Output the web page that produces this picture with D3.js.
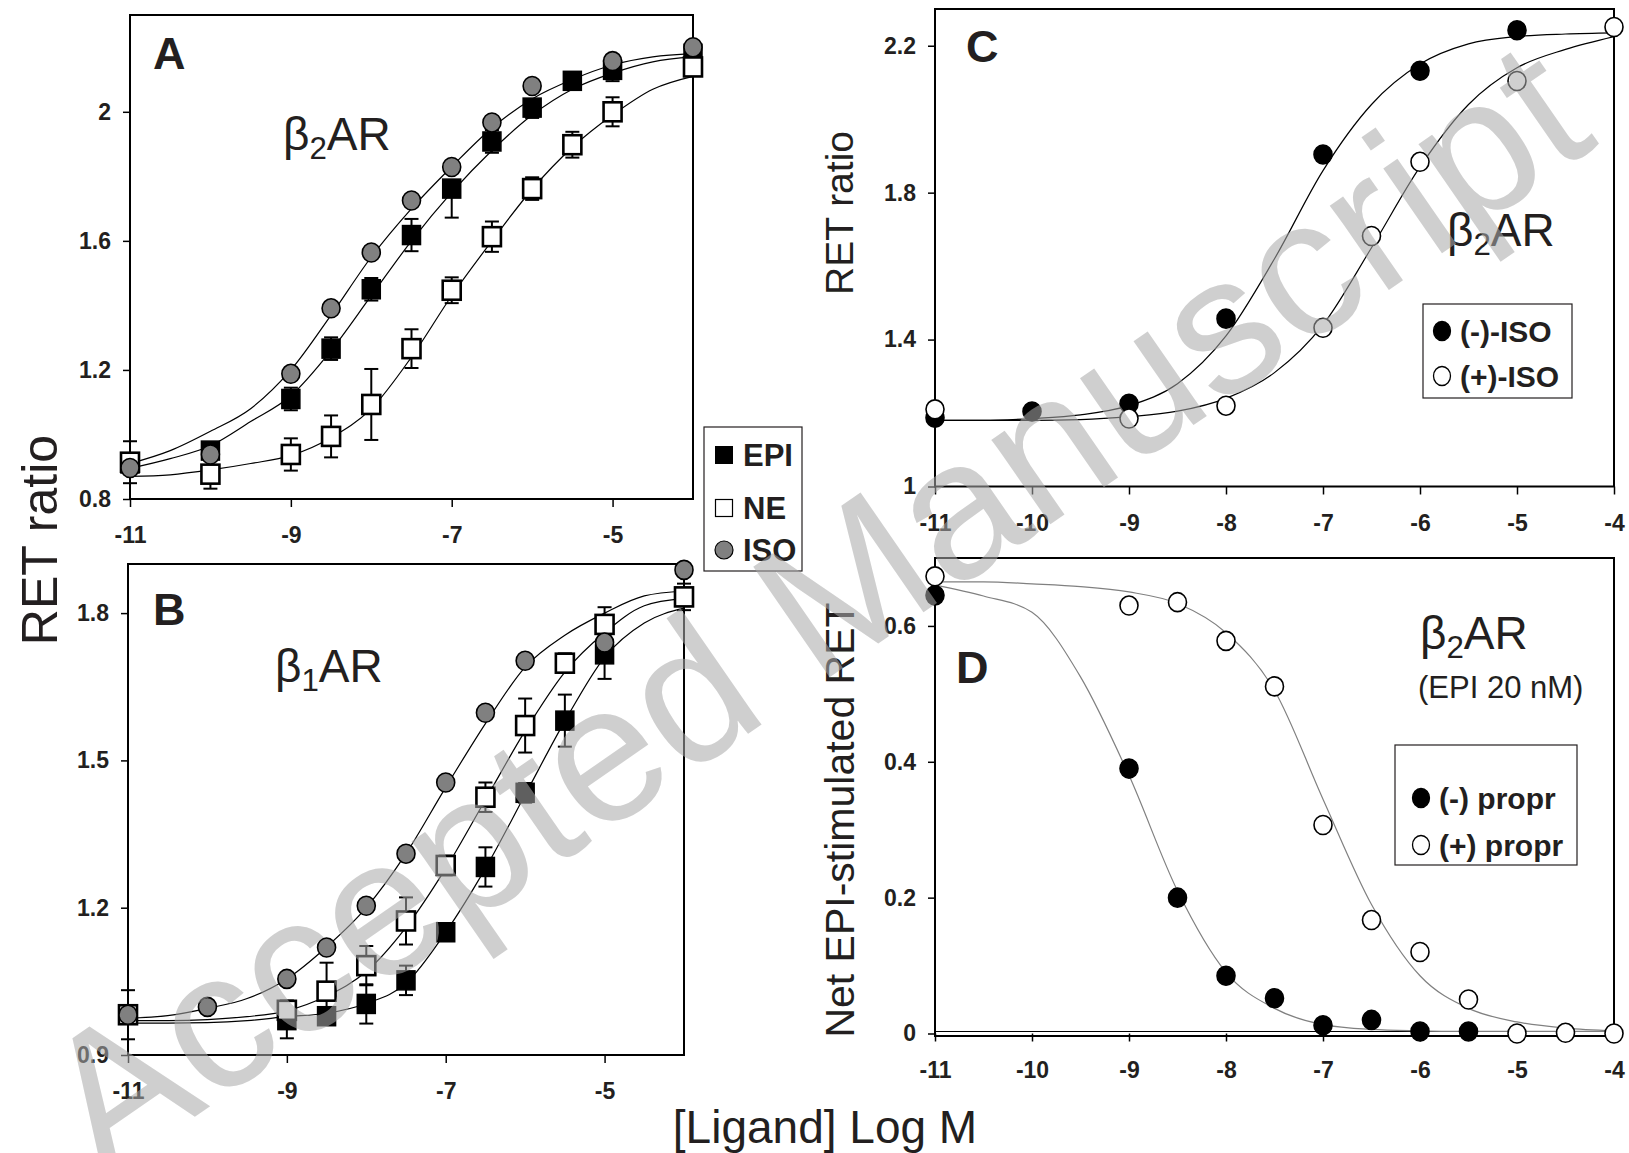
<!DOCTYPE html>
<html>
<head>
<meta charset="utf-8">
<script src="https://cdn.jsdelivr.net/npm/d3@7"></script>
<style>
body { margin: 0; background: #fff; }
svg text { font-family: "Liberation Sans", Arial, sans-serif; fill: #231f20; }
.tick text { font-weight: bold; font-size: 23px; }
.tick line { stroke: #000; stroke-width: 1.5; }
.bold { font-weight: bold; }
</style>
</head>
<body>
<svg id="chart" width="1629" height="1153"></svg>
<script>
// concentrations (log M) for the measured points
const xAB = [-11, -10, -9, -8.5, -8, -7.5, -7, -6.5, -6, -5.5, -5, -4];
const xC = [-11, -10, -9, -8, -7, -6.5, -6, -5, -4];
const xD = [-11, -9, -8.5, -8, -7.5, -7, -6.5, -6, -5.5, -5, -4.5, -4];
const curveX = [-11, -10.5, -10, -9.5, -9, -8.5, -8, -7.5, -7, -6.5, -6, -5.5, -5, -4.5, -4];

// Panel A : beta2AR
const epiA = [0.91, 0.95, 1.11, 1.266, 1.45, 1.618, 1.762, 1.908, 2.013, 2.096, 2.13, 2.18];
const epiAErrLo = [0, 0, 0.035, 0.035, 0.035, 0.05, 0.09, 0.035, 0.032, 0, 0.035, 0];
const epiAErrHi = [0, 0, 0.035, 0.035, 0.035, 0.05, 0.02, 0.035, 0.02, 0, 0.035, 0];
const neA = [0.914, 0.877, 0.938, 0.994, 1.093, 1.266, 1.447, 1.613, 1.762, 1.898, 2.0, 2.139];
const neAErr = [0.065, 0.045, 0.05, 0.065, 0.11, 0.06, 0.04, 0.047, 0.035, 0.04, 0.045, 0];
const isoA = [0.896, 0.938, 1.188, 1.391, 1.564, 1.725, 1.829, 1.967, 2.08, null, 2.157, 2.2];
const isoACurve = [0.91, 0.95, 1.01, 1.08, 1.2, 1.37, 1.55, 1.70, 1.83, 1.95, 2.04, 2.10, 2.145, 2.17, 2.18];
const epiACurve = [0.895, 0.925, 0.965, 1.04, 1.12, 1.26, 1.43, 1.60, 1.75, 1.88, 1.99, 2.07, 2.12, 2.155, 2.17];
const neACurve = [0.87, 0.875, 0.89, 0.91, 0.935, 0.99, 1.08, 1.24, 1.43, 1.60, 1.76, 1.89, 1.99, 2.07, 2.11];

// Panel B : beta1AR
const epiB = [0.982, null, 0.971, 0.979, 1.004, 1.052, 1.15, 1.283, 1.434, 1.581, 1.716, 1.833];
const epiBErr = [0.05, 0, 0.037, 0, 0.04, 0.03, 0, 0.04, 0.02, 0.053, 0.05, 0];
const neB = [0.982, null, 0.991, 1.03, 1.082, 1.173, 1.286, 1.425, 1.571, 1.698, 1.777, 1.833];
const neBErr = [0, 0, 0.02, 0.058, 0.04, 0.048, 0.02, 0.03, 0.055, 0.02, 0.035, 0.027];
const isoB = [0.982, 0.998, 1.055, 1.119, 1.204, 1.31, 1.455, 1.597, 1.703, null, 1.74, 1.888];
const isoBCurve = [0.975, 0.98, 0.995, 1.015, 1.055, 1.12, 1.2, 1.31, 1.445, 1.575, 1.69, 1.755, 1.8, 1.835, 1.845];
const neBCurve = [0.97, 0.97, 0.972, 0.978, 0.99, 1.02, 1.07, 1.16, 1.28, 1.42, 1.56, 1.68, 1.76, 1.815, 1.83];
const epiBCurve = [0.965, 0.965, 0.966, 0.97, 0.978, 0.985, 1.005, 1.046, 1.15, 1.28, 1.43, 1.58, 1.71, 1.78, 1.81];

// Panel C : ISO enantiomers
const minusIso = [1.187, 1.204, 1.225, 1.457, 1.904, null, 2.132, 2.242, null];
const plusIso = [1.21, null, 1.185, 1.22, 1.432, 1.682, 1.884, 2.104, 2.251];
const minusIsoCurve = [1.18, 1.18, 1.185, 1.195, 1.22, 1.28, 1.41, 1.62, 1.86, 2.04, 2.15, 2.205, 2.225, 2.232, 2.235];
const plusIsoCurve = [1.18, 1.18, 1.18, 1.182, 1.19, 1.205, 1.24, 1.31, 1.44, 1.65, 1.87, 2.04, 2.14, 2.19, 2.225];

// Panel D : propranolol enantiomers
const minusPropr = [0.645, 0.39, 0.2, 0.085, 0.052, 0.012, 0.02, 0.003, 0.003, null, null, null];
const plusPropr = [0.673, 0.63, 0.635, 0.578, 0.511, 0.307, 0.167, 0.12, 0.05, 0.0, 0.001, 0.0];
const minusProprCurve = [0.66, 0.644, 0.62, 0.525, 0.38, 0.21, 0.09, 0.037, 0.013, 0.006, 0.004, 0.003, 0.003, 0.003, 0.003];
const plusProprCurve = [0.665, 0.665, 0.662, 0.658, 0.65, 0.633, 0.59, 0.505, 0.345, 0.19, 0.085, 0.037, 0.017, 0.008, 0.004];

// tick values
const ticksYA = [0.8, 1.2, 1.6, 2];
const ticksYB = [0.9, 1.2, 1.5, 1.8];
const ticksYC = [1, 1.4, 1.8, 2.2];
const ticksYD = [0, 0.2, 0.4, 0.6];
const ticksXAB = [-11, -9, -7, -5];
const ticksXCD = [-11, -10, -9, -8, -7, -6, -5, -4];

const svg = d3.select("#chart");

function zip(xs, ys, lo, hi) {
    return xs.map((x, i) => ({
        x: x, y: ys[i],
        lo: lo ? lo[i] : 0,
        hi: hi ? hi[i] : (lo ? lo[i] : 0)
    })).filter(d => d.y !== null);
}

// Function to draw one framed panel with its axes
function makePanel(cfg) {
    const x = d3.scaleLinear().domain([-11, -4]).range([cfg.left, cfg.right]);
    const y = d3.scaleLinear().domain(cfg.yDomain).range([cfg.bottom, cfg.top]);
    const g = svg.append("g");

    const yAxis = g.append("g")
        .attr("transform", `translate(${cfg.left},0)`)
        .call(d3.axisLeft(y).tickValues(cfg.yTicks).tickSize(7).tickPadding(12).tickFormat(d => String(d)));
    yAxis.select(".domain").remove();

    const xAxis = g.append("g")
        .attr("transform", `translate(0,${cfg.bottom})`)
        .call(d3.axisBottom(x).tickValues(cfg.xTicks).tickSize(8).tickPadding(20).tickFormat(d => String(d)));
    xAxis.select(".domain").remove();

    g.append("rect")
        .attr("x", cfg.left).attr("y", cfg.top)
        .attr("width", cfg.right - cfg.left)
        .attr("height", cfg.bottom - cfg.top + (cfg.extraBottom || 0))
        .attr("fill", "none").attr("stroke", "#000").attr("stroke-width", 2);

    return { x, y, g };
}

function drawCurve(p, values, color) {
    const line = d3.line()
        .x((d, i) => p.x(curveX[i]))
        .y(d => p.y(d))
        .curve(d3.curveMonotoneX);
    p.g.append("path")
        .attr("d", line(values))
        .attr("fill", "none")
        .attr("stroke", color)
        .attr("stroke-width", 1.2);
}

function drawErrors(p, pts) {
    const eb = p.g.append("g").attr("stroke", "#000").attr("stroke-width", 2);
    pts.filter(d => d.lo > 0 || d.hi > 0).forEach(d => {
        const cx = p.x(d.x);
        const y1 = p.y(d.y + d.hi), y2 = p.y(d.y - d.lo);
        eb.append("line").attr("x1", cx).attr("x2", cx).attr("y1", y1).attr("y2", y2);
        eb.append("line").attr("x1", cx - 7).attr("x2", cx + 7).attr("y1", y1).attr("y2", y1);
        eb.append("line").attr("x1", cx - 7).attr("x2", cx + 7).attr("y1", y2).attr("y2", y2);
    });
}

function drawSquares(p, pts, fill, sw) {
    p.g.append("g").selectAll("rect").data(pts).join("rect")
        .attr("x", d => p.x(d.x) - 9)
        .attr("y", d => p.y(d.y) - 9.5)
        .attr("width", 18).attr("height", 19)
        .attr("fill", fill).attr("stroke", "#000").attr("stroke-width", sw);
}

function drawCircles(p, pts, fill) {
    p.g.append("g").selectAll("ellipse").data(pts).join("ellipse")
        .attr("cx", d => p.x(d.x))
        .attr("cy", d => p.y(d.y))
        .attr("rx", 9).attr("ry", 9.5)
        .attr("fill", fill).attr("stroke", "#000").attr("stroke-width", 1.6);
}

function betaLabel(x, y, sub, size) {
    const t = svg.append("text").attr("x", x).attr("y", y).attr("font-size", size);
    t.append("tspan").text("β");
    t.append("tspan").attr("dy", size * 0.2).attr("font-size", size * 0.68).text(sub);
    t.append("tspan").attr("dy", -size * 0.2).text("AR");
}

// ---------- Panel A ----------
const pA = makePanel({ left: 130, right: 693, top: 15, bottom: 499, yDomain: [0.8, 2.3], yTicks: ticksYA, xTicks: ticksXAB });
drawCurve(pA, isoACurve, "#000");
drawCurve(pA, epiACurve, "#000");
drawCurve(pA, neACurve, "#000");
const epiAPts = zip(xAB, epiA, epiAErrLo, epiAErrHi);
const neAPts = zip(xAB, neA, neAErr);
const isoAPts = zip(xAB, isoA);
drawErrors(pA, epiAPts);
drawErrors(pA, neAPts);
drawSquares(pA, epiAPts, "#000", 1.5);
drawSquares(pA, neAPts, "#fff", 2.6);
drawCircles(pA, isoAPts, "#808080");

// ---------- Panel B ----------
const pB = makePanel({ left: 128, right: 684, top: 564, bottom: 1055, yDomain: [0.9, 1.9], yTicks: ticksYB, xTicks: ticksXAB });
drawCurve(pB, isoBCurve, "#000");
drawCurve(pB, neBCurve, "#000");
drawCurve(pB, epiBCurve, "#000");
const epiBPts = zip(xAB, epiB, epiBErr);
const neBPts = zip(xAB, neB, neBErr);
const isoBPts = zip(xAB, isoB);
drawErrors(pB, epiBPts);
drawErrors(pB, neBPts);
drawSquares(pB, epiBPts, "#000", 1.5);
drawSquares(pB, neBPts, "#fff", 2.6);
drawCircles(pB, isoBPts, "#808080");

// ---------- Panel C ----------
const pC = makePanel({ left: 935, right: 1614, top: 9, bottom: 486.5, yDomain: [1, 2.3], yTicks: ticksYC, xTicks: ticksXCD });
drawCurve(pC, minusIsoCurve, "#000");
drawCurve(pC, plusIsoCurve, "#000");
drawCircles(pC, zip(xC, minusIso), "#000");
drawCircles(pC, zip(xC, plusIso), "#fff");

// ---------- Panel D ----------
const pD = makePanel({ left: 935, right: 1614, top: 558, bottom: 1033.5, yDomain: [0, 0.7], yTicks: ticksYD, xTicks: ticksXCD, extraBottom: 2.5 });
pD.g.append("line")
    .attr("x1", pD.x(-11)).attr("x2", pD.x(-4))
    .attr("y1", pD.y(0) - 2).attr("y2", pD.y(0) - 2)
    .attr("stroke", "#000").attr("stroke-width", 1.2);
drawCurve(pD, minusProprCurve, "#808080");
drawCurve(pD, plusProprCurve, "#808080");
drawCircles(pD, zip(xD, minusPropr), "#000");
drawCircles(pD, zip(xD, plusPropr), "#fff");

// ---------- panel letters and receptor labels ----------
[["A", 153, 69], ["B", 153, 625], ["C", 966, 62], ["D", 956, 683]].forEach(([t, x, y]) => {
    svg.append("text").attr("class", "bold").attr("x", x).attr("y", y).attr("font-size", 45).text(t);
});
betaLabel(283, 150, "2", 46);
betaLabel(275, 682, "1", 46);
betaLabel(1447, 246, "2", 46);
betaLabel(1420, 649, "2", 46);
svg.append("text").attr("x", 1418).attr("y", 698).attr("font-size", 31).text("(EPI 20 nM)");

// ---------- legends ----------
const legA = svg.append("g");
legA.append("rect").attr("x", 704).attr("y", 427).attr("width", 98).attr("height", 144)
    .attr("fill", "#fff").attr("stroke", "#231f20").attr("stroke-width", 1.2);
legA.append("rect").attr("x", 715).attr("y", 446).attr("width", 18).attr("height", 18).attr("fill", "#000");
legA.append("rect").attr("x", 715.5).attr("y", 499.5).attr("width", 17).attr("height", 17)
    .attr("fill", "#fff").attr("stroke", "#000").attr("stroke-width", 1.2);
legA.append("circle").attr("cx", 724).attr("cy", 550).attr("r", 9)
    .attr("fill", "#808080").attr("stroke", "#000").attr("stroke-width", 1.2);
[["EPI", 466], ["NE", 519], ["ISO", 561]].forEach(([t, y]) => {
    legA.append("text").attr("class", "bold").attr("x", 743).attr("y", y).attr("font-size", 31).text(t);
});

function circleLegend(box, items) {
    const lg = svg.append("g");
    lg.append("rect").attr("x", box[0]).attr("y", box[1]).attr("width", box[2]).attr("height", box[3])
        .attr("fill", "#fff").attr("stroke", "#231f20").attr("stroke-width", 1.2);
    items.forEach(([label, fill, cx, cy]) => {
        lg.append("ellipse").attr("cx", cx).attr("cy", cy).attr("rx", 8.5).attr("ry", 9.5)
            .attr("fill", fill).attr("stroke", "#000").attr("stroke-width", 1.3);
        lg.append("text").attr("class", "bold").attr("x", cx + 18).attr("y", cy + 11)
            .attr("font-size", 30).text(label);
    });
}
circleLegend([1423, 304, 149, 94], [["(-)-ISO", "#000", 1442, 331], ["(+)-ISO", "#fff", 1442, 376]]);
circleLegend([1395, 745, 182, 120], [["(-) propr", "#000", 1421, 798], ["(+) propr", "#fff", 1421, 845]]);

// ---------- axis titles ----------
svg.append("text").attr("transform", "translate(57,540) rotate(-90)")
    .attr("text-anchor", "middle").attr("font-size", 50).text("RET ratio");
svg.append("text").attr("transform", "translate(853,213) rotate(-90)")
    .attr("text-anchor", "middle").attr("font-size", 39).text("RET ratio");
svg.append("text").attr("transform", "translate(854,820) rotate(-90)")
    .attr("text-anchor", "middle").attr("font-size", 41).text("Net EPI-stimulated RET");
svg.append("text").attr("x", 825).attr("y", 1143)
    .attr("text-anchor", "middle").attr("font-size", 46).text("[Ligand] Log M");

// ---------- watermark ----------
svg.append("text")
    .attr("transform", "translate(812,604) rotate(-34.7)")
    .attr("text-anchor", "middle")
    .attr("dy", "0.36em")
    .attr("font-size", 195)
    .style("fill", "#aaaaaa")
    .attr("fill-opacity", 0.56)
    .text("Accepted Manuscript");
</script>
</body>
</html>
